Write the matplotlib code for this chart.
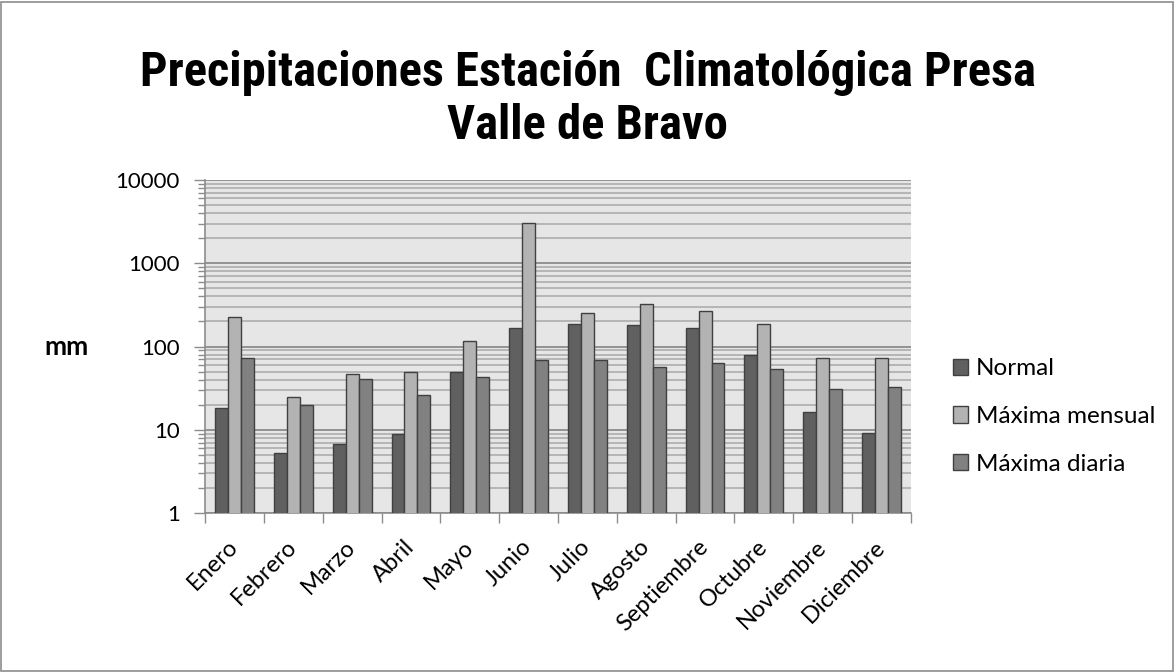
import matplotlib as mpl
mpl.use("Agg")
import matplotlib.pyplot as plt
import numpy as np
from matplotlib import font_manager
from matplotlib.ticker import FixedLocator, LogLocator, NullFormatter

mpl.rcParams["font.family"] = ["Lato", "DejaVu Sans"]

names = {f.name for f in font_manager.fontManager.ttflist}
title_font = "Liberation Sans Narrow" if "Liberation Sans Narrow" in names else "Roboto Condensed"

months = ["Enero", "Febrero", "Marzo", "Abril", "Mayo", "Junio", "Julio",
          "Agosto", "Septiembre", "Octubre", "Noviembre", "Diciembre"]
normal = [18.5, 5.3, 6.7, 9.0, 49.5, 169, 184, 181, 169, 79, 16.3, 9.1]
max_mensual = [227, 25, 47, 49.5, 116, 3080, 251, 323, 270, 184, 72, 72]
max_diaria = [72, 19.8, 41, 25.8, 43.5, 69, 68, 56, 64, 54, 31, 33]

series = [("Normal", normal, "#606060"),
          ("Máxima mensual", max_mensual, "#b3b3b3"),
          ("Máxima diaria", max_diaria, "#818181")]

fig = plt.figure(figsize=(11.75, 6.72), dpi=100)
fig.patch.set_facecolor("white")
fig.patches.append(mpl.patches.Rectangle((0.001, 0.002), 0.997, 0.995,
                                         transform=fig.transFigure, fill=False,
                                         ec="#8c8c8c", lw=1.2))

ax = fig.add_axes([0.1745, 0.2366, 0.6008, 0.4955])
ax.set_facecolor("#e6e6e6")
ax.set_yscale("log")
ax.set_ylim(1, 10000)
ax.set_xlim(-0.5, len(months) - 0.5)

x = np.arange(len(months))
w = 0.22
for i, (name, vals, col) in enumerate(series):
    ax.bar(x + (i - 1) * w, vals, width=w, color=col, edgecolor="#404040",
           lw=1.0, label=name, zorder=3)

ax.yaxis.set_major_locator(FixedLocator([1, 10, 100, 1000, 10000]))
ax.yaxis.set_minor_locator(LogLocator(base=10, subs=np.arange(2, 10)))
ax.yaxis.set_minor_formatter(NullFormatter())
ax.set_yticklabels(["1", "10", "100", "1000", "10000"])
ax.grid(axis="y", which="major", color="#8c8c8c", lw=1.3, zorder=1)
ax.grid(axis="y", which="minor", color="#a8a8a8", lw=1.1, zorder=1)
ax.tick_params(axis="y", which="major", length=8, width=1, color="#8c8c8c",
               labelsize=16, pad=10)
ax.tick_params(axis="y", which="minor", length=5, width=1, color="#8c8c8c")

ax.set_xticks(x)
ax.set_xticklabels(months, rotation=45, ha="right", va="center",
                   rotation_mode="anchor", fontsize=17)
ax.xaxis.set_minor_locator(FixedLocator(np.arange(-0.5, len(months), 1.0)))
ax.tick_params(axis="x", which="major", length=0, pad=22)
ax.tick_params(axis="x", which="minor", length=7, width=1, color="#8c8c8c")

for s in ["top", "right"]:
    ax.spines[s].set_visible(False)
for s in ["left", "bottom"]:
    ax.spines[s].set_color("#8c8c8c")
    ax.spines[s].set_linewidth(1.2)

fig.text(0.5, 0.852, "Precipitaciones Estación  Climatológica Presa\nValle de Bravo",
         ha="center", va="center", fontsize=35, fontweight="bold",
         family=[title_font, "DejaVu Sans"], linespacing=1.17)
fig.text(0.057, 1 - 347 / 672, "mm", ha="center", va="center",
         fontsize=19, fontweight="bold")

leg = ax.legend(loc="center left", bbox_to_anchor=(1.028, 0.29), frameon=False,
                fontsize=17.5, handlelength=0.65, handleheight=0.65,
                handletextpad=0.3, labelspacing=1.1)

fig.savefig("out.png", dpi=100)
